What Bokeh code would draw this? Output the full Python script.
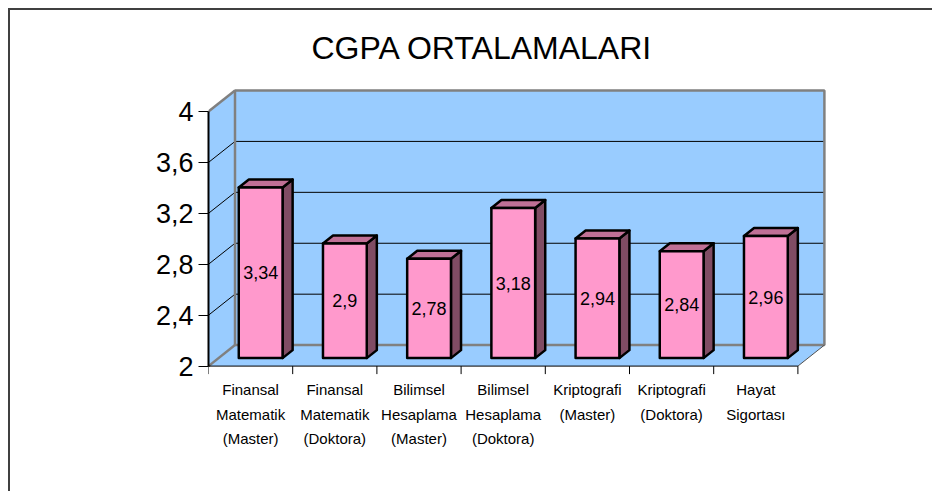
from bokeh.plotting import figure
from bokeh.models import Range1d, FixedTicker, CustomJSTickFormatter
from bokeh.core.properties import value
from bokeh.embed import file_html
from bokeh.resources import INLINE

# ---------------- data ----------------
title_text = "CGPA ORTALAMALARI"
categories = [
    "Finansal Matematik (Master)",
    "Finansal Matematik (Doktora)",
    "Bilimsel Hesaplama (Master)",
    "Bilimsel Hesaplama (Doktora)",
    "Kriptografi (Master)",
    "Kriptografi (Doktora)",
    "Hayat Sigortası",
]
label_lines = [
    ["Finansal", "Matematik", "(Master)"],
    ["Finansal", "Matematik", "(Doktora)"],
    ["Bilimsel", "Hesaplama", "(Master)"],
    ["Bilimsel", "Hesaplama", "(Doktora)"],
    ["Kriptografi", "(Master)"],
    ["Kriptografi", "(Doktora)"],
    ["Hayat", "Sigortası"],
]
values = [3.34, 2.9, 2.78, 3.18, 2.94, 2.84, 2.96]
y_ticks = [2, 2.4, 2.8, 3.2, 3.6, 4]
y_min, y_max = 2, 4

# ---------------- layout / style constants ----------------
FONT = "Liberation Sans"
W, H = 924, 483
MB_L, MB_R, MB_T, MB_B = 198, 84, 70, 23
PX_X, PX_Y = 84.2, 127.3          # pixels per category / per value unit
TOP_PAD_PX = 31                   # frame top above value 4
frame_w = W - MB_L - MB_R
frame_h = H - MB_T - MB_B
n = len(values)
x_start = -0.5
x_end = x_start + frame_w / PX_X
y_end = y_max + TOP_PAD_PX / PX_Y
y_start = y_end - frame_h / PX_Y

DX, DY = 26.5 / PX_X, 21 / PX_Y   # 3-D depth offset
F1, F2 = 0.38, 0.76               # bar front / back depth fraction
HW = 0.26                          # half bar width (category units)

WALL = "#99CCFF"
EDGE = "#808080"
BAR_FRONT = "#FF99CC"
BAR_TOP = "#C07096"
BAR_SIDE = "#804C64"

p = figure(width=W, height=H, output_backend="svg", toolbar_location=None,
           x_range=Range1d(x_start, x_end), y_range=Range1d(y_start, y_end),
           x_axis_location=None, title=title_text,
           min_border_left=MB_L, min_border_right=MB_R,
           min_border_top=MB_T, min_border_bottom=MB_B,
           styles={"margin-left": "8px", "margin-top": "8px",
                   "border-left": "2px solid #404040", "border-top": "2px solid #404040"})
p.outline_line_color = None
p.grid.visible = False
p.background_fill_color = "white"
p.border_fill_color = "white"

p.title.text_font = FONT
p.title.text_font_size = "32px"
p.title.text_font_style = "normal"
p.title.text_color = "black"
p.title.align = "left"
p.title.offset = 103
p.title.standoff = 29

# ---------------- 3-D walls ----------------
lx, rx = -0.5, n - 0.5
# back wall
p.patch([lx + DX, rx + DX, rx + DX, lx + DX],
        [y_min + DY, y_min + DY, y_max + DY, y_max + DY],
        fill_color=WALL, line_color=None)
# left side wall
p.patch([lx, lx + DX, lx + DX, lx],
        [y_min, y_min + DY, y_max + DY, y_max],
        fill_color=WALL, line_color=None)
# floor
p.patch([lx, rx, rx + DX, lx + DX],
        [y_min, y_min, y_min + DY, y_min + DY],
        fill_color=WALL, line_color=None)

# gridlines (back wall + side wall)
grid_vals = [t for t in y_ticks if y_min < t < y_max]
p.multi_line([[lx + DX, rx + DX] for t in grid_vals],
             [[t + DY, t + DY] for t in grid_vals],
             line_color="black", line_width=1)
p.multi_line([[lx, lx + DX] for t in grid_vals],
             [[t, t + DY] for t in grid_vals],
             line_color="black", line_width=1)

# wall edges
p.line([lx + DX, lx + DX, rx + DX, rx + DX, lx + DX],
       [y_min + DY, y_max + DY, y_max + DY, y_min + DY, y_min + DY],
       line_color=EDGE, line_width=2.5)
p.multi_line([[lx, lx + DX], [lx, lx + DX]],
             [[y_max, y_max + DY], [y_min, y_min + DY]],
             line_color=EDGE, line_width=2.5)
p.line([rx, rx + DX], [y_min, y_min + DY], line_color="#505050", line_width=1)

# ---------------- bars ----------------
fx, fy = F1 * DX, F1 * DY
bx, by = (F2 - F1) * DX, (F2 - F1) * DY
front_xs, front_ys, top_xs, top_ys, side_xs, side_ys = [], [], [], [], [], []
lab_x, lab_y, lab_t = [], [], []
for i, v in enumerate(values):
    x0, x1 = i - HW + fx, i + HW + fx
    y0, y1 = y_min + fy, v + fy
    front_xs.append([x0, x1, x1, x0]); front_ys.append([y0, y0, y1, y1])
    top_xs.append([x0, x1, x1 + bx, x0 + bx]); top_ys.append([y1, y1, y1 + by, y1 + by])
    side_xs.append([x1, x1 + bx, x1 + bx, x1]); side_ys.append([y0, y0 + by, y1 + by, y1])
    lab_x.append(i + fx)
    lab_y.append((y0 + y1) / 2)
    lab_t.append(f"{v:g}".replace(".", ","))

p.patches(side_xs, side_ys, fill_color=BAR_SIDE, line_color="black", line_width=2.5, line_join="round")
p.patches(top_xs, top_ys, fill_color=BAR_TOP, line_color="black", line_width=2.5, line_join="round")
p.patches(front_xs, front_ys, fill_color=BAR_FRONT, line_color="black", line_width=2.5, line_join="round")

p.text(lab_x, lab_y, text=lab_t, text_font=value(FONT), text_font_size="18px",
       text_align="center", text_baseline="middle", text_color="black")

# ---------------- category axis (front floor edge) ----------------
p.line([lx, rx], [y_min, y_min], line_color="black", line_width=1)
bounds = [i - 0.5 for i in range(n + 1)]
TICK_PX = 8
p.multi_line([[b, b] for b in bounds],
             [[y_min, y_min - TICK_PX / PX_Y] for b in bounds],
             line_color="black", line_width=1)

LINE_OFFS_PX = [23.8, 48.3, 72.6]
for k, off in enumerate(LINE_OFFS_PX):
    xs = [i for i, ll in enumerate(label_lines) if len(ll) > k]
    ts = [ll[k] for ll in label_lines if len(ll) > k]
    p.text(xs, [y_min - off / PX_Y] * len(xs), text=ts, text_font=value(FONT),
           text_font_size="15px", text_align="center", text_baseline="middle",
           text_color="black")

# ---------------- value axis ----------------
ax = p.yaxis[0]
ax.ticker = FixedTicker(ticks=y_ticks)
ax.bounds = (y_min, y_max)
ax.formatter = CustomJSTickFormatter(
    code="return (Math.round(tick*10)/10).toString().replace('.', ',');")
ax.axis_line_color = "black"
ax.axis_line_width = 2
ax.major_tick_in = 0
ax.major_tick_out = 10
ax.major_tick_line_color = "black"
ax.minor_tick_line_color = None
ax.major_label_standoff = 5
ax.major_label_text_font = FONT
ax.major_label_text_font_size = "27px"
ax.major_label_text_color = "black"

open("out.html", "w").write(file_html(p, INLINE))
